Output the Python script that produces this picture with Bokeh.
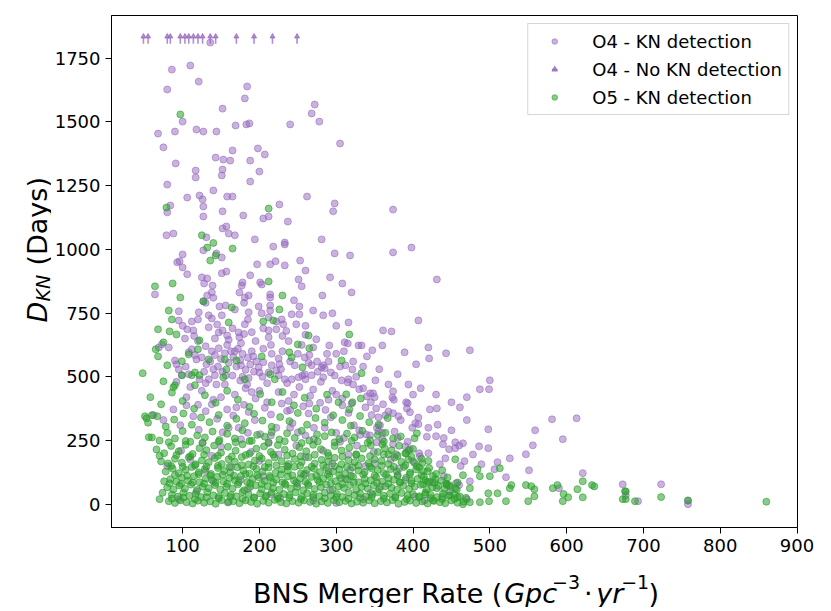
import math
from bokeh.plotting import figure
from bokeh.layouts import row, column
from bokeh.models import ColumnDataSource, Range1d, Legend, LegendItem, FixedTicker
from bokeh.core.properties import value
from bokeh.transform import dodge
from bokeh.embed import file_html
from bokeh.resources import INLINE

# ---------------- data (BNS merger rate, D_KN days) ----------------
x_ticks = [100, 200, 300, 400, 500, 600, 700, 800, 900]
y_ticks = [0, 250, 500, 750, 1000, 1250, 1500, 1750]

legend_labels = ["O4 - KN detection", "O4 - No KN detection", "O5 - KN detection"]

# O4 - no KN detection (lower limits at 5 years)
o4_nokn_rate = [49, 55, 80, 84, 97, 103, 108, 114, 120, 126, 136, 143, 170, 193, 217, 249]
o4_nokn_days = [1826] * len(o4_nokn_rate)

# O4 - KN detection
o4_upper = [
    (136, 1811), (86, 1705), (110, 1721), (121, 1658), (80, 1627), (184, 1639), (181, 1592),
    (152, 1552), (272, 1568), (268, 1533), (278, 1501), (305, 1415), (100, 1501), (68, 1454),
    (90, 1462), (118, 1470), (127, 1462), (144, 1462), (169, 1486), (183, 1490), (187, 1494),
    (240, 1490), (75, 1400), (165, 1388), (198, 1396), (207, 1372), (143, 1360), (153, 1352),
    (162, 1348), (188, 1348), (91, 1337), (117, 1309), (152, 1313), (200, 1305), (117, 1282),
    (151, 1290), (188, 1266), (80, 1254), (140, 1231), (106, 1203), (122, 1211), (126, 1196),
    (158, 1207), (165, 1207), (262, 1207), (298, 1180), (296, 1149), (84, 1172), (80, 1145),
    (127, 1168), (226, 1176), (127, 1129), (152, 1149), (179, 1133), (205, 1121), (212, 1129),
    (237, 1109), (79, 1055), (88, 1062), (131, 1047), (152, 1082), (157, 1090), (160, 1062),
    (168, 1055), (194, 1039), (233, 1027), (281, 1039), (374, 1156), (374, 988), (398, 1007),
    (218, 1011), (233, 1019), (127, 996), (144, 984), (151, 968), (100, 980), (93, 949),
    (96, 953), (100, 929), (106, 902), (151, 906), (157, 913), (197, 941), (214, 941),
    (221, 953), (233, 937), (253, 956), (260, 917), (298, 984), (318, 976),
]
o4_middle = [
    (64, 823), (125, 890), (132, 886), (128, 866), (139, 858), (138, 831), (132, 819), (127, 796),
    (174, 831), (177, 858), (178, 870), (181, 811), (186, 819), (188, 898), (201, 870), (203, 862),
    (214, 823), (214, 811), (251, 882), (255, 855), (282, 819), (292, 890), (308, 866), (320, 831),
    (431, 882), (95, 757), (95, 721), (112, 717), (120, 725), (106, 686), (114, 682), (121, 753),
    (134, 741), (138, 729), (134, 694), (148, 776), (156, 780), (168, 764), (151, 741), (147, 674),
    (152, 682), (158, 662), (173, 674), (174, 655), (181, 706), (185, 725), (186, 753), (199, 776),
    (203, 749), (214, 780), (214, 760), (212, 733), (222, 717), (229, 725), (231, 706), (222, 686),
    (212, 682), (242, 745), (252, 745), (252, 776), (248, 706), (283, 741), (295, 749), (311, 635),
    (316, 713), (274, 647), (291, 623), (407, 721), (361, 682), (372, 678),
    (100, 700), (115, 660), (130, 790), (145, 705), (165, 690), (190, 675), (205, 690), (235, 680),
    (260, 700), (270, 760), (300, 700), (245, 800), (180, 790), (140, 810),
]
o4_lowmid = [
    (82, 615), (73, 627), (69, 615), (90, 564), (92, 549), (95, 529), (99, 506), (108, 596),
    (112, 608), (118, 568), (125, 576), (131, 549), (108, 510), (122, 490), (134, 490), (142, 506),
    (233, 490), (242, 490), (251, 498), (259, 510), (268, 506), (281, 537), (283, 498), (293, 517),
    (307, 486), (316, 490), (225, 572), (226, 549), (216, 545), (205, 557), (212, 517), (222, 525),
    (199, 537), (200, 517), (225, 506), (259, 576), (268, 545), (283, 545), (285, 533), (270, 615),
    (138, 600), (142, 585), (147, 612), (150, 570), (155, 592), (158, 625), (160, 555), (163, 600),
    (166, 578), (170, 540), (172, 610), (175, 565), (178, 590), (182, 528), (185, 575), (188, 548),
    (190, 600), (193, 520), (196, 560), (146, 540), (152, 520), (140, 530), (165, 505), (178, 500),
    (186, 495), (130, 620), (120, 640), (103, 650), (142, 650), (160, 645), (176, 632), (195, 640),
    (205, 610), (215, 625), (230, 600), (240, 560), (250, 590), (255, 625), (238, 640), (265, 585),
    (275, 560), (290, 560), (300, 590), (305, 540), (310, 600), (322, 560), (335, 540), (212, 655),
    (230, 660), (260, 665), (180, 668),
    (315, 631), (329, 623), (333, 623), (347, 604), (360, 623), (389, 596), (420, 615), (421, 572),
    (404, 549), (443, 592), (474, 604), (321, 529), (315, 478), (351, 486), (330, 451), (344, 435),
    (348, 435), (340, 423), (374, 443), (373, 419), (391, 400), (500, 486), (487, 451), (499, 451),
    (352, 376), (422, 372), (431, 376), (461, 380),
    (105, 420), (125, 445), (140, 410), (155, 470), (168, 430), (182, 455), (195, 415), (210, 475),
    (225, 440), (238, 405), (252, 460), (266, 425), (280, 480), (295, 445), (308, 415), (322, 470),
    (290, 410), (260, 490), (175, 485), (130, 475), (110, 460), (200, 445), (245, 430), (335, 455),
    (350, 420), (270, 450),
    (92, 480), (104, 540), (116, 585), (128, 520), (136, 560), (144, 470), (156, 505), (168, 600),
    (176, 545), (184, 470), (192, 580), (204, 500), (216, 590), (228, 530), (236, 475), (246, 545),
    (256, 505), (264, 555), (276, 520), (288, 590), (298, 505), (312, 545), (326, 500), (340, 580),
    (356, 530), (368, 470), (380, 510), (394, 470), (410, 455), (430, 430), (450, 400), (470, 420),
]
o4_right = [
    (364, 349), (374, 357), (381, 345), (396, 361), (393, 396), (355, 341), (403, 318), (407, 314),
    (357, 310), (355, 286), (339, 274), (344, 270), (353, 243), (374, 235), (390, 227), (396, 216),
    (378, 196), (408, 200), (409, 188), (400, 169), (581, 333), (613, 337), (498, 294), (559, 290),
    (595, 255), (556, 231), (547, 196), (526, 180), (551, 133), (621, 122), (510, 165), (521, 106),
    (506, 137), (498, 220), (486, 227), (489, 157), (474, 90), (467, 169), (435, 157), (430, 267),
    (439, 235), (447, 216), (455, 243), (465, 239), (455, 220), (444, 78), (456, 82), (590, 63),
    (673, 78), (677, 35), (693, 12), (723, 78), (758, 0), (758, 14),
]
o4_dense = [
    (95, 20), (118, 50), (140, 90), (160, 10), (185, 60), (205, 110), (227, 25), (250, 80),
    (270, 15), (292, 55), (312, 100), (335, 20), (358, 70), (380, 115), (402, 30), (425, 85),
    (448, 50), (470, 20), (130, 130), (175, 95), (215, 40), (260, 120), (300, 5), (345, 45),
    (390, 95), (415, 15), (440, 110), (460, 75),
    (80, 150), (98, 210), (110, 175), (126, 240), (138, 190), (150, 225), (163, 145), (176, 255),
    (189, 205), (200, 170), (212, 240), (225, 195), (236, 150), (248, 230), (260, 185), (271, 255),
    (283, 210), (295, 160), (305, 245), (316, 195), (327, 230), (338, 150), (349, 205), (360, 255),
    (371, 175), (382, 140), (393, 245), (420, 200), (442, 180), (462, 150), (478, 195), (290, 130),
    (318, 135), (350, 160),
    (62, 350), (75, 330), (88, 372), (97, 310), (105, 388), (114, 345), (121, 292), (130, 365),
    (138, 392), (145, 335), (152, 282), (158, 372), (166, 348), (173, 300), (180, 390), (186, 362),
    (194, 330), (201, 275), (207, 378), (215, 352), (222, 300), (229, 395), (236, 366), (243, 318),
    (250, 282), (257, 384), (264, 356), (271, 300), (279, 398), (286, 370), (293, 341), (300, 280),
    (308, 388), (316, 358), (323, 310), (331, 272), (338, 380), (346, 350), (353, 300), (361, 392),
    (368, 364), (376, 285), (384, 330), (392, 376), (399, 300), (407, 340), (418, 265), (432, 312),
    (450, 290), (470, 330),
    (120, 390), (150, 420), (170, 380), (190, 440), (210, 400), (240, 370), (265, 395), (300, 430),
    (320, 395), (345, 400), (375, 410), (400, 430), (160, 300), (185, 280), (215, 270), (240, 300),
    (260, 270), (285, 300), (310, 260), (330, 290), (360, 280), (380, 260), (420, 300), (440, 260),
    (460, 230),
]

# O5 - KN detection
o5_sparse = [
    (97, 1529), (79, 1164), (212, 1160), (125, 1055), (140, 1025), (132, 1007), (165, 1003),
    (143, 976), (136, 956), (64, 855), (87, 866), (97, 811), (127, 796), (212, 874), (230, 819),
    (48, 514), (68, 686), (75, 635), (82, 760), (86, 725), (83, 678), (92, 666), (65, 608),
    (68, 580), (80, 545), (99, 561), (108, 588), (120, 608), (122, 643), (134, 568), (116, 517),
    (112, 506), (160, 713), (164, 772), (157, 529), (170, 564), (155, 568), (181, 490), (153, 498),
    (203, 580), (205, 717), (218, 721), (226, 764), (242, 576), (250, 627), (239, 596), (264, 662),
    (265, 612), (307, 564), (256, 537), (317, 666), (220, 490), (214, 510), (333, 514), (313, 431),
    (321, 400), (75, 482), (88, 459), (90, 467), (99, 506), (122, 506), (116, 467), (51, 345),
    (60, 349), (56, 263), (53, 337),
]
o5_right = [
    (360, 235), (368, 196), (390, 200), (394, 212), (405, 278), (402, 259), (412, 161), (408, 145),
    (419, 129), (416, 94), (419, 86), (431, 63), (444, 75), (438, 20), (426, 16), (416, 39),
    (455, 176), (465, 114), (474, 63), (474, 8), (465, 0), (447, 75), (448, 35), (458, 27),
    (455, 63), (498, 43), (499, 12), (487, 8), (510, 43), (484, 137), (487, 110), (500, 110),
    (513, 141), (526, 63), (521, 12), (547, 75), (554, 71), (558, 59), (558, 31), (550, 12),
    (582, 63), (595, 12), (602, 27), (614, 59), (621, 90), (633, 75), (621, 27), (676, 51),
    (673, 20), (689, 12), (596, 40), (636, 70), (588, 75), (528, 75), (677, 50), (677, 20),
    (723, 28), (758, 15), (860, 10),
]
o5_band_low = [
    (70, 20), (74, 45), (76, 90),
    (82, 12), (90, 5), (97, 15), (105, 8), (113, 3), (120, 14), (128, 6), (136, 11), (143, 2),
    (151, 16), (159, 7), (166, 12), (174, 4), (182, 15), (189, 9), (197, 2), (205, 13), (212, 6),
    (220, 17), (228, 8), (235, 3), (243, 12), (251, 6), (258, 15), (266, 9), (274, 2), (281, 11),
    (289, 5), (297, 16), (304, 8), (312, 13), (320, 3), (327, 10), (335, 6), (343, 15), (350, 4),
    (358, 12), (366, 7), (373, 16), (381, 2), (389, 9), (396, 14), (404, 5), (412, 11), (419, 3),
    (427, 13), (435, 8), (442, 4), (450, 15), (458, 6), (466, 10),
    (86, 22), (101, 26), (116, 20), (131, 27), (147, 23), (162, 28), (178, 21), (193, 25),
    (208, 29), (224, 22), (239, 26), (254, 20), (270, 27), (285, 23), (300, 29), (316, 21),
    (331, 25), (346, 28), (362, 22), (377, 26), (392, 20), (408, 27), (423, 24), (438, 29),
    (454, 21), (469, 25),
    (86, 38), (94, 30), (101, 45), (109, 33), (117, 41), (124, 28), (132, 47), (140, 35), (147, 29),
    (155, 44), (163, 36), (170, 31), (178, 48), (186, 39), (193, 27), (201, 42), (209, 34),
    (216, 46), (224, 30), (232, 40), (239, 35), (247, 47), (255, 29), (262, 43), (270, 37),
    (278, 31), (285, 45), (293, 33), (301, 40), (308, 28), (316, 46), (324, 36), (331, 42),
    (339, 30), (347, 38), (354, 47), (362, 33), (370, 41), (377, 29), (385, 44), (393, 35),
    (400, 39), (408, 31), (416, 46), (423, 36), (431, 28), (439, 42), (446, 33), (454, 40), (461, 30),
    (80, 66), (88, 58), (96, 73), (103, 61), (111, 77), (119, 56), (126, 69), (134, 63), (142, 75),
    (149, 58), (157, 70), (165, 62), (172, 78), (180, 55), (188, 68), (195, 74), (203, 59),
    (211, 71), (218, 64), (226, 57), (234, 76), (241, 62), (249, 69), (257, 55), (264, 73),
    (272, 60), (280, 67), (287, 77), (295, 58), (303, 70), (310, 64), (318, 75), (326, 56),
    (333, 68), (341, 62), (349, 74), (356, 59), (364, 71), (372, 65), (379, 57), (387, 73),
    (395, 61), (402, 69), (410, 76), (418, 58), (425, 66), (433, 72), (441, 60), (449, 68), (457, 57),
    (83, 82), (98, 80), (113, 85), (128, 81), (143, 84), (158, 80), (173, 86), (188, 82),
    (203, 79), (218, 85), (233, 81), (248, 84), (263, 80), (278, 86), (293, 82), (308, 79),
    (323, 85), (338, 81), (353, 84), (368, 80), (383, 86), (398, 82), (413, 79), (428, 84),
    (443, 81), (458, 85),
]
o5_band_mid = [
    (84, 98), (92, 88), (99, 105), (107, 92), (115, 110), (122, 86), (130, 101), (138, 95),
    (145, 108), (153, 89), (161, 103), (168, 94), (176, 111), (184, 87), (191, 99), (199, 106),
    (207, 91), (214, 104), (222, 96), (230, 86), (237, 109), (245, 93), (253, 101), (260, 88),
    (268, 107), (276, 95), (283, 100), (291, 110), (299, 90), (306, 103), (314, 97), (322, 108),
    (329, 86), (337, 99), (345, 94), (352, 106), (360, 89), (368, 102), (375, 96), (383, 85),
    (391, 104), (398, 92), (406, 100), (414, 109), (421, 88), (429, 98), (437, 93), (445, 105),
    (90, 115), (106, 112), (121, 118), (136, 113), (152, 116), (167, 112), (182, 118), (197, 114),
    (213, 111), (228, 117), (243, 113), (258, 116), (274, 112), (289, 118), (304, 114), (319, 111),
    (335, 117), (350, 113), (365, 116), (380, 112), (396, 118), (411, 114), (426, 111),
    (78, 128), (87, 140), (95, 122), (104, 135), (112, 146), (121, 125), (129, 138), (137, 119),
    (146, 142), (154, 130), (162, 124), (171, 145), (179, 133), (187, 120), (196, 139), (204, 128),
    (212, 144), (221, 123), (229, 136), (237, 131), (246, 147), (254, 121), (262, 134), (271, 140),
    (279, 126), (287, 143), (296, 129), (304, 137), (312, 120), (321, 145), (329, 132), (337, 125),
    (346, 141), (354, 134), (362, 122), (371, 138), (379, 128), (388, 146), (396, 124), (404, 136),
    (413, 130), (421, 142), (430, 119), (438, 133),
    (85, 150), (100, 147), (116, 152), (131, 148), (146, 151), (161, 147), (177, 153), (192, 149),
    (207, 146), (222, 152), (237, 148), (253, 151), (268, 147), (283, 153), (298, 149), (314, 146),
    (329, 152), (344, 148), (359, 151), (375, 147), (390, 153), (405, 149),
    (72, 168), (81, 160), (90, 178), (99, 163), (108, 184), (117, 157), (125, 172), (134, 165),
    (142, 181), (151, 158), (160, 176), (168, 167), (177, 185), (186, 156), (194, 171), (203, 179),
    (212, 162), (220, 183), (229, 169), (238, 158), (246, 177), (255, 166), (264, 184), (272, 160),
    (281, 174), (290, 168), (298, 182), (307, 157), (316, 173), (324, 165), (333, 180), (342, 161),
    (350, 176), (359, 170), (368, 158), (376, 183), (385, 166), (394, 175), (402, 162), (411, 178),
    (420, 170),
    (70, 190), (92, 193), (110, 188), (128, 194), (146, 190), (164, 187), (182, 193), (200, 189),
    (218, 195), (236, 191), (254, 188), (272, 194), (290, 190), (308, 187), (326, 193), (344, 189),
    (362, 195), (380, 190), (398, 186),
]
o5_band_high = [
    (66, 215), (76, 200), (85, 228), (95, 208), (104, 233), (113, 197), (122, 220), (131, 212),
    (141, 230), (150, 202), (159, 225), (169, 210), (178, 235), (187, 198), (196, 218), (206, 227),
    (215, 205), (224, 232), (233, 214), (243, 199), (252, 224), (261, 208), (270, 233), (280, 216),
    (289, 201), (298, 228), (307, 211), (317, 222), (326, 196), (335, 218), (345, 231), (354, 205),
    (363, 220), (372, 212), (382, 229), (391, 200), (400, 217),
    (82, 243), (104, 248), (126, 241), (147, 246), (169, 243), (190, 249), (212, 242), (233, 247),
    (255, 240), (276, 246), (298, 243), (320, 249), (341, 241), (362, 246),
    (60, 262), (70, 250), (80, 280), (90, 258), (100, 287), (110, 245), (119, 270), (129, 262),
    (139, 285), (148, 252), (158, 276), (168, 258), (178, 290), (187, 248), (197, 272), (207, 265),
    (216, 283), (226, 254), (236, 278), (246, 260), (255, 288), (265, 250), (275, 274), (285, 267),
    (294, 282), (304, 255), (314, 277), (324, 262), (334, 288), (344, 251), (354, 272), (364, 280),
    (374, 258), (384, 266),
    (55, 320), (67, 345), (78, 305), (89, 332), (101, 356), (112, 312), (124, 340), (135, 322),
    (147, 350), (158, 308), (170, 335), (181, 318), (193, 355), (204, 328), (216, 304), (227, 342),
    (239, 326), (250, 358), (262, 312), (273, 338), (285, 320), (296, 349), (308, 330), (319, 308),
    (331, 346), (343, 322), (355, 312), (367, 338),
    (58, 420), (72, 392), (86, 438), (100, 405), (115, 375), (129, 428), (143, 398), (158, 445),
    (172, 410), (187, 382), (201, 432), (216, 400), (230, 440), (245, 388), (259, 418), (274, 375),
    (288, 430), (303, 400), (317, 372), (332, 415),
]

o4_points = o4_upper + o4_middle + o4_lowmid + o4_right + o4_dense
o5_points = o5_sparse + o5_right + o5_band_low + o5_band_mid + o5_band_high

PURPLE = "#9467bd"
GREEN = "#2ca02c"
FONT = "DejaVu Sans"

# ---------------- main figure ----------------
p = figure(frame_width=686, frame_height=512,
           output_backend="svg", toolbar_location=None,
           x_range=Range1d(7.4, 900.6), y_range=Range1d(-91.3, 1917.3),
           min_border_left=60, min_border_right=28, min_border_top=15, min_border_bottom=34,
           background_fill_color="white", border_fill_color="white")
p.grid.grid_line_color = None
p.outline_line_color = "black"
p.outline_line_alpha = 1.0
p.outline_line_width = 1

p.xaxis.ticker = FixedTicker(ticks=x_ticks)
p.yaxis.ticker = FixedTicker(ticks=y_ticks)
for ax in (p.xaxis, p.yaxis):
    ax.major_label_text_font = FONT
    ax.major_label_text_font_size = "18px"
    ax.major_label_text_color = "black"
    ax.major_tick_out = 6
    ax.major_tick_in = 0
    ax.minor_tick_out = 0
    ax.minor_tick_in = 0
    ax.axis_line_color = "black"
    ax.major_tick_line_color = "black"
p.xaxis.major_label_standoff = 5
p.yaxis.major_label_standoff = 5

src_o4 = ColumnDataSource(dict(x=[a for a, b in o4_points], y=[b for a, b in o4_points]))
src_o5 = ColumnDataSource(dict(x=[a for a, b in o5_points], y=[b for a, b in o5_points]))
src_nokn = ColumnDataSource(dict(x=o4_nokn_rate, y=o4_nokn_days))

r_o4 = p.scatter("x", "y", source=src_o4, size=7, marker="circle",
                 fill_color=PURPLE, line_color=PURPLE, fill_alpha=0.5, line_alpha=0.55)
r_shaft = p.scatter(x="x", y=dodge("y", -8, range=p.y_range), source=src_nokn, marker="dash",
                    size=6, angle=math.pi / 2, line_color=PURPLE, line_alpha=0.75, line_width=1.6)
r_head = p.scatter(x="x", y=dodge("y", 9, range=p.y_range), source=src_nokn, marker="triangle",
                   size=5, fill_color=PURPLE, line_color=PURPLE, fill_alpha=0.75, line_alpha=0.75)
r_o5 = p.scatter("x", "y", source=src_o5, size=7, marker="circle",
                 fill_color=GREEN, line_color=GREEN, fill_alpha=0.55, line_alpha=0.6)

legend = Legend(items=[LegendItem(label=legend_labels[0], renderers=[r_o4]),
                       LegendItem(label=legend_labels[1], renderers=[r_shaft, r_head]),
                       LegendItem(label=legend_labels[2], renderers=[r_o5])],
                location="top_right", margin=8, padding=6, spacing=6,
                glyph_width=40, glyph_height=14, label_height=22, label_standoff=18,
                label_text_font=FONT, label_text_font_size="18px", label_text_color="black",
                border_line_color="#cccccc", border_line_alpha=0.8,
                background_fill_alpha=0.8)
p.add_layout(legend)

P_W = 60 + 686 + 28
P_H = 15 + 512 + 34
YL_W = 51
XL_H = 46


def text_panel(w, h):
    f = figure(width=w, height=h, output_backend="svg", toolbar_location=None,
               x_range=Range1d(0, w), y_range=Range1d(0, h),
               x_axis_type=None, y_axis_type=None, min_border=0,
               background_fill_color="white", border_fill_color="white")
    f.outline_line_color = None
    f.grid.grid_line_color = None
    return f


def put(f, txt, x, y, size, style="normal", angle=0.0, align="left"):
    f.text(x=[x], y=[y], text=[txt], angle=angle, text_font=value(FONT),
           text_font_size=value(size), text_font_style=style, text_color="black",
           text_align=align, text_baseline="alphabetic")


# x label: BNS Merger Rate (Gpc^-3 · yr^-1)
xl = text_panel(P_W, XL_H)
put(xl, "BNS Merger Rate (", 441, 14, "27px", align="right")
put(xl, "Gpc", 443, 14, "27px", "italic")
put(xl, "\u22123", 497, 26, "19px")
put(xl, "\u00b7", 533, 14, "27px")
put(xl, "yr", 547, 14, "27px", "italic")
put(xl, "\u22121", 575, 26, "19px")
put(xl, ")", 606, 14, "27px")

# y label: D_KN (Days)
yl = text_panel(YL_W, P_H + XL_H)
put(yl, "D", 37, 285, "27px", "italic", math.pi / 2)
put(yl, "KN", 42, 306, "19px", "italic", math.pi / 2)
put(yl, "(Days)", 37, 342, "27px", "normal", math.pi / 2)

page = row(yl, column(p, xl, spacing=0), spacing=0)
open("out.html", "w").write(file_html(page, INLINE))
